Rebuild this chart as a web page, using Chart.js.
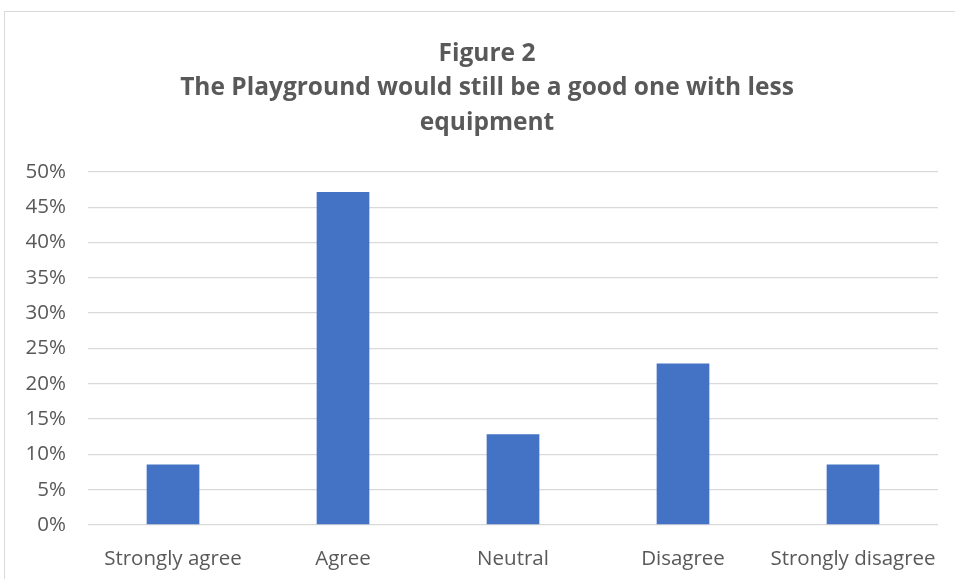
<!DOCTYPE html>
<html>
<head>
<meta charset="utf-8">
<script src="https://cdn.jsdelivr.net/npm/chart.js@4"></script>
<style>
    body { margin: 0; background: #ffffff; overflow: hidden; }
    #frame { position: absolute; left: 4px; top: 11px; width: 1000px; height: 600px; border: 1px solid #d9d9d9; }
    #wrap { position: absolute; left: 0; top: 0; width: 955px; height: 579px; }
</style>
</head>
<body>
<div id="frame"></div>
<div id="wrap"><canvas id="chart"></canvas></div>
<script>
// Data (responses as share of total)
const categories = ["Strongly agree", "Agree", "Neutral", "Disagree", "Strongly disagree"];
const shares = [0.0857, 0.4714, 0.1286, 0.2286, 0.0857];
const titleLines = ["Figure 2", "The Playground would still be a good one with less", "equipment"];

const textColor = '#595959';
const gridColor = '#d9d9d9';

// the original frame runs past the right edge, so its title sits a bit right of the canvas middle
const shiftTitle = {
    id: 'shiftTitle',
    beforeDraw: function(chart) {
        if (chart.titleBlock) {
            chart.titleBlock.right = chart.titleBlock.left + 974;
        }
    }
};

document.addEventListener("DOMContentLoaded", function() {
    const ctx = document.getElementById('chart').getContext('2d');

    new Chart(ctx, {
        type: 'bar',
        data: {
            labels: categories,
            datasets: [{
                data: shares,
                backgroundColor: '#4472c4',
                borderWidth: 0,
                categoryPercentage: 1,
                barPercentage: 0.31
            }]
        },
        plugins: [shiftTitle],
        options: {
            responsive: true,
            maintainAspectRatio: false,
            animation: false,
            layout: { padding: { left: 0, right: 17, top: 0, bottom: 0 } },
            plugins: {
                legend: { display: false },
                tooltip: { enabled: false },
                title: {
                    display: true,
                    text: titleLines,
                    color: textColor,
                    font: { family: 'Open Sans', size: 24.5, weight: 'bold', lineHeight: 1.4 },
                    padding: { top: 37, bottom: 32 }
                }
            },
            scales: {
                x: {
                    grid: { display: false },
                    border: { display: false },
                    ticks: {
                        color: textColor,
                        font: { family: 'Open Sans', size: 20.5 },
                        padding: 14,
                        maxRotation: 0,
                        autoSkip: false
                    },
                    afterFit: function(scale) { scale.height = 54; }
                },
                y: {
                    min: 0,
                    max: 0.5,
                    border: { display: false },
                    grid: { color: gridColor, lineWidth: 1.3, drawTicks: false },
                    ticks: {
                        stepSize: 0.05,
                        color: textColor,
                        font: { family: 'Open Sans', size: 20.5 },
                        padding: 22,
                        callback: function(value) {
                            return Math.round(value * 100) + '%';
                        }
                    },
                    afterFit: function(scale) { scale.width = 88; }
                }
            }
        }
    });
});
</script>
</body>
</html>
